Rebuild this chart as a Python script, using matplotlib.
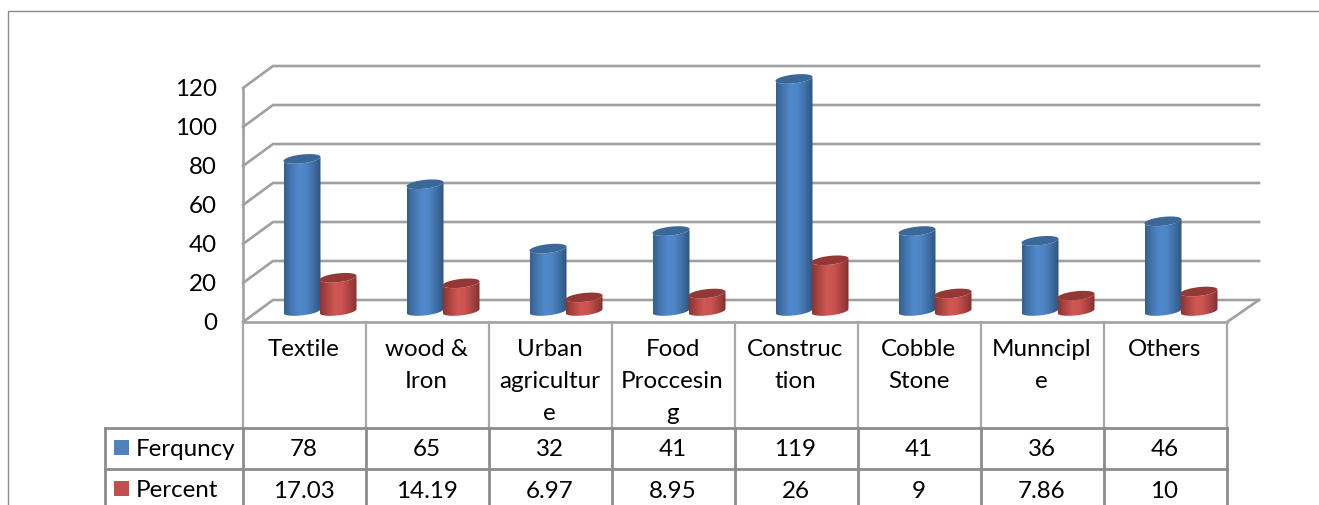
"""3D-style cylinder chart of worker counts by sector, with a data table below."""

import matplotlib

matplotlib.use("Agg")
import matplotlib.pyplot as plt
import numpy as np
from matplotlib.colors import LinearSegmentedColormap
from matplotlib.patches import PathPatch, Rectangle
from matplotlib.path import Path

# Chart data
categories = [
    "Textile",
    "wood &\nIron",
    "Urban\nagricultur\ne",
    "Food\nProccesin\ng",
    "Construc\ntion",
    "Cobble\nStone",
    "Munncipl\ne",
    "Others",
]
frequency = [78, 65, 32, 41, 119, 41, 36, 46]
percent = [17.03, 14.19, 6.97, 8.95, 26, 9, 7.86, 10]
frequency_labels = ["78", "65", "32", "41", "119", "41", "36", "46"]
percent_labels = ["17.03", "14.19", "6.97", "8.95", "26", "9", "7.86", "10"]
y_ticks = [0, 20, 40, 60, 80, 100, 120]
series_names = ["Ferquncy", "Percent"]

# Layout, in pixels of the canvas
WIDTH, HEIGHT = 1319, 505
FRONT_LEFT, FRONT_RIGHT = 243, 1227
FRONT_ZERO = 322
DEPTH_X, DEPTH_Y = 30, 22
BACK_RIGHT = 1259
PX_PER_UNIT = 1.95
BAR_BASE = 311
BAR_HALF = 18.5
BLUE_OFFSET, RED_OFFSET = 59, 95
COL_W = (FRONT_RIGHT - FRONT_LEFT) / len(categories)
TABLE_LEFT = 105
ROW_TOPS = [428, 469]

GRID = "#a0a0a0"
TABLE = "#8c8c8c"
FONT = "Lato"
FONT_SIZE = 17.4
INK = "#000000"

BLUE = LinearSegmentedColormap.from_list(
    "blue_cyl", ["#35608f", "#4577b0", "#5189cb", "#4e85c4", "#3f6fa6", "#2f557f"]
)
RED = LinearSegmentedColormap.from_list(
    "red_cyl", ["#8d3533", "#b04643", "#cf5754", "#cb5450", "#a94341", "#84312f"]
)
BLUE_TOP = "#3c6899"
RED_TOP = "#943836"


def ellipse_xy(cx, cy, start, stop, n=40):
    # Tilted ellipse used for the cylinder caps, right side sits higher
    t = np.linspace(start, stop, n)
    x = cx + BAR_HALF * np.cos(t)
    y = cy - 2.0 * np.cos(t) + 4.4 * np.sin(t)
    return x, y


def draw_cylinder(ax, cx, value, cmap, top_color, z):
    top_y = BAR_BASE - value * PX_PER_UNIT

    # Body: down the left side, round the bottom cap, back up the right side
    bx, by = ellipse_xy(cx, BAR_BASE, np.pi, 0)
    tx, ty = ellipse_xy(cx, top_y, 0, np.pi)
    verts = np.column_stack([np.r_[bx, tx], np.r_[by, ty]])
    body = PathPatch(Path(np.vstack([verts, verts[0]]), closed=True),
                     facecolor="none", edgecolor="none", transform=ax.transData)
    ax.add_patch(body)

    shade = np.linspace(0, 1, 64).reshape(1, -1)
    im = ax.imshow(
        shade,
        cmap=cmap,
        aspect="auto",
        extent=(cx - BAR_HALF, cx + BAR_HALF, HEIGHT, 0),
        zorder=z,
        interpolation="bilinear",
    )
    im.set_clip_path(body)

    # Top cap
    cx_top, cy_top = ellipse_xy(cx, top_y, 0, 2 * np.pi, 60)
    ax.fill(cx_top, cy_top, color=top_color, lw=0, zorder=z + 0.1)


fig = plt.figure(figsize=(WIDTH / 100, HEIGHT / 100), dpi=100)
ax = fig.add_axes([0, 0, 1, 1])
ax.set_axis_off()

# Outer frame of the chart area
ax.plot([8, 8, WIDTH], [HEIGHT, 11, 11], color="#8a8a8a", lw=1.0, zorder=1)

# Gridlines on the side and back walls
for tick in y_ticks:
    front_y = FRONT_ZERO - tick * PX_PER_UNIT
    back_y = front_y - DEPTH_Y
    ax.plot(
        [FRONT_LEFT, FRONT_LEFT + DEPTH_X, BACK_RIGHT],
        [front_y, back_y, back_y],
        color=GRID,
        lw=1.9,
        solid_joinstyle="miter",
        zorder=2,
    )
    ax.text(217, front_y + 1.5, str(tick), ha="right", va="center",
            family=FONT, fontsize=FONT_SIZE, color=INK, zorder=6)

# Floor edges and the front wall edge
ax.plot([FRONT_LEFT, FRONT_LEFT], [FRONT_ZERO, FRONT_ZERO - 120 * PX_PER_UNIT],
        color=GRID, lw=1.9, zorder=2)
ax.plot([FRONT_RIGHT, BACK_RIGHT], [FRONT_ZERO, FRONT_ZERO - DEPTH_Y],
        color=GRID, lw=1.9, zorder=2)
ax.plot([FRONT_LEFT, FRONT_RIGHT], [FRONT_ZERO, FRONT_ZERO], color=GRID, lw=1.9, zorder=5)

# Cylinders
for i, (freq, pct) in enumerate(zip(frequency, percent)):
    left = FRONT_LEFT + i * COL_W
    draw_cylinder(ax, left + BLUE_OFFSET, freq, BLUE, BLUE_TOP, 3 + i * 0.01)
    draw_cylinder(ax, left + RED_OFFSET, pct, RED, RED_TOP, 4 + i * 0.01)

# Data table: column rules and category labels
for i in range(len(categories) + 1):
    x = FRONT_LEFT + i * COL_W
    ax.plot([x, x], [FRONT_ZERO, ROW_TOPS[0]], color="#a8a8a8", lw=1.6, zorder=5)
    ax.plot([x, x], [ROW_TOPS[0], HEIGHT], color=TABLE, lw=2.0, zorder=5)
ax.plot([TABLE_LEFT, TABLE_LEFT], [ROW_TOPS[0], HEIGHT], color=TABLE, lw=2.0, zorder=5)
for y in ROW_TOPS:
    ax.plot([TABLE_LEFT, FRONT_RIGHT], [y, y], color=TABLE, lw=2.0, zorder=5)

for i, name in enumerate(categories):
    xc = FRONT_LEFT + (i + 0.5) * COL_W
    for j, part in enumerate(name.split("\n")):
        ax.text(xc - 1, 349 + j * 32, part, ha="center", va="center",
                family=FONT, fontsize=FONT_SIZE, color=INK, zorder=6)
    ax.text(xc - 1, 450, frequency_labels[i], ha="center", va="center",
            family=FONT, fontsize=FONT_SIZE, color=INK, zorder=6)
    ax.text(xc - 1, 491, percent_labels[i], ha="center", va="center",
            family=FONT, fontsize=FONT_SIZE, color=INK, zorder=6)

# Legend keys sit in the row headers
key_colors = ["#4f81bd", "#c0504d"]
for y, name, color in zip([448, 489], series_names, key_colors):
    ax.add_patch(Rectangle((114, y - 8), 15, 15, facecolor=color, edgecolor="none", zorder=6))
    ax.text(136, y + 1.5, name, ha="left", va="center",
            family=FONT, fontsize=FONT_SIZE, color=INK, zorder=6)

ax.set_xlim(0, WIDTH)
ax.set_ylim(HEIGHT, 0)

fig.savefig("out.png", dpi=100, facecolor="white")
